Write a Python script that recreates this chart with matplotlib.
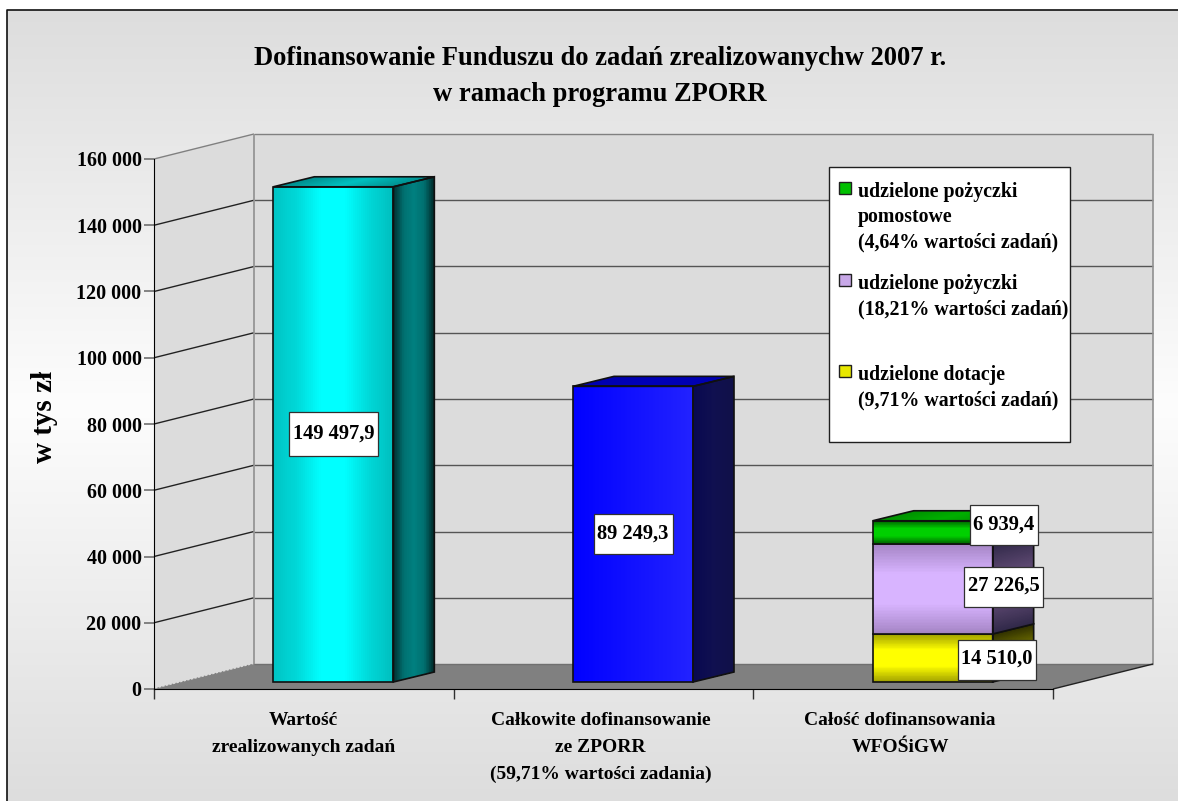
import numpy as np
import matplotlib
matplotlib.use("Agg")
import matplotlib.pyplot as plt
from matplotlib.patches import Polygon, Rectangle
from matplotlib.transforms import Affine2D, IdentityTransform
from matplotlib.colors import LinearSegmentedColormap

# ---- data ----
categories = ["Wartość\nzrealizowanych zadań",
              "Całkowite dofinansowanie\nze ZPORR\n(59,71% wartości zadania)",
              "Całość dofinansowania\nWFOŚiGW"]
total_value = [149497.9]
zporr_value = [89249.3]
wfos_dotacje = 14510.0
wfos_pozyczki = 27226.5
wfos_pomostowe = 6939.4
value_labels = ["149 497,9", "89 249,3", "14 510,0", "27 226,5", "6 939,4"]
y_ticks = [0, 20000, 40000, 60000, 80000, 100000, 120000, 140000, 160000]
y_tick_labels = ["0", "20 000", "40 000", "60 000", "80 000", "100 000",
                 "120 000", "140 000", "160 000"]
title = "Dofinansowanie Funduszu do zadań zrealizowanychw 2007 r.\nw ramach programu ZPORR"
y_label = "w tys zł"
legend_entries = ["udzielone pożyczki\npomostowe\n(4,64% wartości zadań)",
                  "udzielone pożyczki\n(18,21% wartości zadań)",
                  "udzielone dotacje\n(9,71% wartości zadań)"]

# ---- layout ----
W, H = 1178, 801
plt.rcParams["font.family"] = "Liberation Serif"
plt.rcParams["font.weight"] = "bold"
fig = plt.figure(figsize=(W / 100, H / 100), dpi=100, facecolor="white")

bg = fig.add_axes([0, 0, 1, 1], zorder=-1)
cmap_bg = LinearSegmentedColormap.from_list("bg", [(0, "#DDDDDD"), (0.5, "#FDFDFD"), (1, "#DDDDDD")])
bg.imshow(np.linspace(0, 1, 256)[:, None], cmap=cmap_bg, extent=[7, W, H, 10], aspect="auto", vmin=0, vmax=1)
bg.set_xlim(0, W); bg.set_ylim(H, 0); bg.axis("off")
bg.plot([7, 7, W], [H, 10, 10], color="#101010", lw=1.2)

L, R, B, T = 154, 1053, 689, 159
ax = fig.add_axes([L / W, (H - B) / H, (R - L) / W, (B - T) / H], facecolor="none")
ax.set_xlim(0, 3)
ax.set_ylim(0, 160000)

WALL_DX, WALL_DY = 100, 25
BAR_DX, BAR_DY = 29.5, 7
DEPTH_X, DEPTH_Y = 41, 10
dpp = 3 / (R - L)
vpp = 160000 / (B - T)
BAR_W = 120 * dpp


def off(dx, dy):
    return ax.transData + Affine2D().translate(dx, dy)


wx, wy = WALL_DX * dpp, WALL_DY * vpp
wall = dict(fc="#DCDCDC", ec="none", clip_on=False, zorder=1)
ax.add_patch(Polygon([(wx, wy), (3 + wx, wy), (3 + wx, 160000 + wy), (wx, 160000 + wy)], **wall))
ax.add_patch(Polygon([(0, 0), (0, 160000), (wx, 160000 + wy), (wx, wy)], **wall))
ax.add_patch(Polygon([(0, 0), (3, 0), (3 + wx, wy), (wx, wy)], fc="#808080", ec="none", clip_on=False, zorder=2))

line = dict(clip_on=False, zorder=3, solid_capstyle="butt")
for v in y_ticks:
    if v > 0:
        top = v == 160000
        ax.plot([0, wx], [v, v + wy], color="#808080" if top else "#222222", lw=1, **line)
        ax.plot([wx, 3 + wx], [v + wy, v + wy], color="#808080" if top else "#555555", lw=1, **line)
ax.plot([wx, wx], [0 + wy, 160000 + wy], color="#909090", lw=1.2, **line)
ax.plot([3 + wx, 3 + wx], [0 + wy, 160000 + wy], color="#909090", lw=1.2, **line)
ax.plot([wx, 3 + wx], [wy, wy], color="#707070", lw=1, **line)
ax.plot([0, wx], [0, wy], color="#808080", lw=1, ls=":", clip_on=False, zorder=3)
ax.plot([3, 3 + wx], [0, wy], color="#222222", lw=1, **line)


def gradient_quad(p0, p1, p2, p3, stops, n=60, z=5):
    """Shade from edge p0-p1 to edge p3-p2; each strip runs to the far edge so no seams appear."""
    cm = LinearSegmentedColormap.from_list("g", stops)
    p0, p1, p2, p3 = map(np.array, (p0, p1, p2, p3))
    for k in range(n):
        a = k / n
        q = [p0 + (p3 - p0) * a, p1 + (p2 - p1) * a, p2, p3]
        ax.add_patch(Polygon(q, closed=True, fc=cm((k + .5) / n), ec="none", lw=0,
                             clip_on=False, zorder=z))


def bar3d(xc, y0, y1, front, side, top=None, horizontal=False, z=5):
    hw = BAR_W / 2
    x0, x1 = xc - hw + BAR_DX * dpp, xc + hw + BAR_DX * dpp
    sy = BAR_DY * vpp
    dx, dy = DEPTH_X * dpp, DEPTH_Y * vpp
    a, b = y0 + sy, y1 + sy
    if horizontal:
        gradient_quad((x0, a), (x1, a), (x1, b), (x0, b), front, z=z)
        gradient_quad((x1, a), (x1 + dx, a + dy), (x1 + dx, b + dy), (x1, b), side, z=z)
    else:
        gradient_quad((x0, a), (x0, b), (x1, b), (x1, a), front, z=z)
        gradient_quad((x1, a), (x1, b), (x1 + dx, b + dy), (x1 + dx, a + dy), side, n=24, z=z)
    if top is not None:
        gradient_quad((x0, b), (x0 + dx, b + dy), (x1 + dx, b + dy), (x1, b), top, z=z)
    edge = dict(fill=False, ec="#101010", lw=1.2, clip_on=False, zorder=z + .5, joinstyle="miter")
    ax.add_patch(Polygon([(x0, a), (x1, a), (x1, b), (x0, b)], **edge))
    ax.add_patch(Polygon([(x1, a), (x1 + dx, a + dy), (x1 + dx, b + dy), (x1, b)], **edge))
    if top is not None:
        ax.add_patch(Polygon([(x0, b), (x0 + dx, b + dy), (x1 + dx, b + dy), (x1, b)], **edge))


CYAN = ["#00C4C4", "#00D8D8", "#00FFFF", "#00FFFF", "#00D8D8", "#00BEBE"]
CYAN_S = ["#002E2E", "#007070", "#008080", "#007070", "#002828"]
CYAN_T = ["#008C8C", "#00C0C0", "#009090"]
bar3d(0.5, 0, total_value[0], CYAN, CYAN_S, CYAN_T)

BLUE = ["#0000FF", "#1111FF", "#2222FF"]
BLUE_S = ["#080850", "#101050", "#101048"]
BLUE_T = ["#0000B0", "#0000B8", "#0000B0"]
bar3d(1.5, 0, zporr_value[0], BLUE, BLUE_S, BLUE_T)

YEL = ["#A0A000", "#FFFF00", "#FFFF00", "#A0A000"]
YEL_S = ["#303000", "#808000", "#303000"]
PUR = ["#A484C4", "#D8B4FF", "#D8B4FF", "#A484C4"]
PUR_S = ["#302848", "#5C4870", "#5C4870", "#302848"]
GRN = ["#006000", "#00D000", "#00D000", "#006000"]
GRN_S = ["#002000", "#004000", "#002000"]
GRN_T = ["#009000", "#00B000", "#009000"]
s1 = wfos_dotacje
s2 = s1 + wfos_pozyczki
s3 = s2 + wfos_pomostowe
bar3d(2.5, 0, s1, YEL, YEL_S, None, horizontal=True, z=5)
bar3d(2.5, s1, s2, PUR, PUR_S, None, horizontal=True, z=6)
bar3d(2.5, s2, s3, GRN, GRN_S, GRN_T, horizontal=True, z=7)


def value_label(x, y, text, dx, dy, bw, bh):
    cx, cy = off(dx, dy).transform((x, y))
    ax.add_patch(Rectangle((cx - bw / 2, cy - bh / 2), bw, bh, transform=IdentityTransform(),
                           fc="white", ec="#303030", lw=0.9, clip_on=False, zorder=19))
    ax.text(cx, cy + 1, text, transform=IdentityTransform(), ha="center", va="center",
            fontsize=14.8, fontweight="bold", zorder=20, clip_on=False)


value_label(0.5, total_value[0] / 2, value_labels[0], BAR_DX, BAR_DY, 89, 44)
value_label(1.5, zporr_value[0] / 2, value_labels[1], BAR_DX, BAR_DY, 79, 40)
value_label(2.5, s1 / 2, value_labels[2], BAR_DX + 64, BAR_DY - 2, 78, 40)
value_label(2.5, (s1 + s2) / 2, value_labels[3], BAR_DX + 71, BAR_DY + 2, 79, 40)
value_label(2.5, (s2 + s3) / 2, value_labels[4], BAR_DX + 71, BAR_DY + 7, 68, 40)

# axes furniture
for s in ("top", "right"):
    ax.spines[s].set_visible(False)
ax.spines["left"].set_zorder(10)
ax.spines["bottom"].set_zorder(10)
ax.set_yticks(y_ticks)
ax.set_yticklabels(y_tick_labels, fontsize=14.5, fontweight="bold")
ax.tick_params(axis="y", length=7, width=1.2, color="#707070", pad=2)
ax.set_xticks([0, 1, 2, 3])
ax.set_xticklabels([])
ax.tick_params(axis="x", length=7.2, width=1, color="#303030")
ax.set_xticks([0.5, 1.49, 2.49], minor=True)
ax.set_xticklabels(categories, minor=True, fontsize=14, fontweight="bold", linespacing=1.74)
ax.tick_params(axis="x", which="minor", length=0, pad=16.5)

fig.text(600 / W, 1 - 76.5 / H, title, ha="center", va="center", fontsize=19.1, fontweight="bold", linespacing=1.56)
fig.text(44 / W, 1 - 417 / H, y_label, rotation=90, ha="center", va="center", fontsize=21, fontweight="bold")

# legend
lg = fig.add_axes([0, 0, 1, 1], zorder=30, facecolor="none")
lg.set_xlim(0, W); lg.set_ylim(H, 0); lg.axis("off")
lg.add_patch(Rectangle((829, 167), 241, 275, fc="white", ec="#202020", lw=1))
legend_cols = ["#00C000", "#C8A8E8", "#E8E800"]
legend_y = [188, 280, 371]
for c, y, t in zip(legend_cols, legend_y, legend_entries):
    lg.add_patch(Rectangle((839, y - 6), 12, 12, fc=c, ec="#202020", lw=1))
    lg.text(858, y - 6, t, ha="left", va="top", fontsize=14.3, fontweight="bold", linespacing=1.34)

fig.savefig("out.png", dpi=100, facecolor="white")
